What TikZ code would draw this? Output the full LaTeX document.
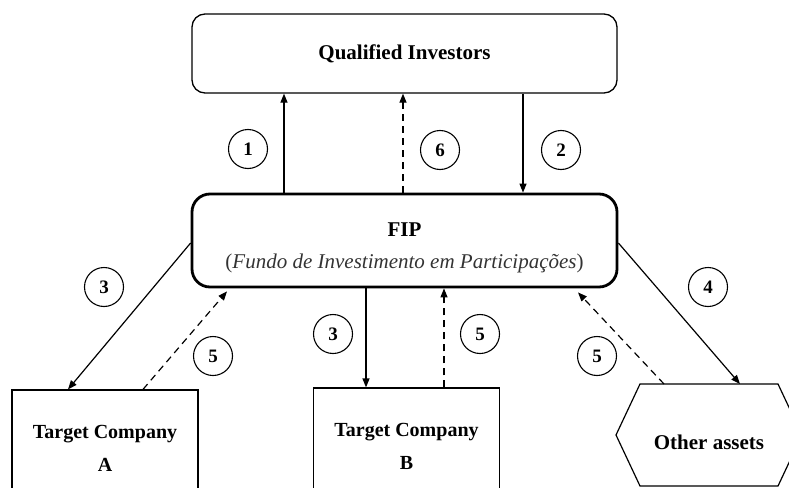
\documentclass[tikz,border=0pt]{standalone}
\usepackage{fontspec}
\setmainfont{Liberation Serif}
\usetikzlibrary{arrows.meta}
\begin{document}
\begin{tikzpicture}[x=1pt,y=-1pt,
  qibox/.style={draw, line width=1.3pt, rounded corners=13pt, minimum width=425pt, minimum height=79pt, inner sep=0pt, font=\fontsize{21}{24}\selectfont\bfseries},
  fipbox/.style={draw, line width=2.8pt, rounded corners=18pt, minimum width=425pt, minimum height=93pt, inner sep=0pt},
  tbox/.style={draw, line width=1.2pt, minimum width=186pt, minimum height=116pt, inner sep=0pt, align=center, font=\fontsize{20}{33}\selectfont\bfseries},
  num/.style={draw, circle, line width=1.1pt, minimum size=39pt, inner sep=0pt, font=\fontsize{19}{19}\selectfont\bfseries},
  conn/.style={line width=1.2pt, -{Triangle[length=9pt,width=7pt]}},
  dconn/.style={conn, dash pattern=on 7pt off 5pt},
]
\useasboundingbox (0,0) rectangle (789,487);
\clip (0,0) rectangle (789,487);

% main boxes
\node[qibox] (qi) at (404.5,53.5) {Qualified Investors};
\node[fipbox] (fip) at (404.5,240.5) {};
\node[font=\fontsize{21}{24}\selectfont\bfseries] (fiplabel) at (404.5,230) {FIP};
\node[font=\fontsize{21}{24}\selectfont, text=black!80] (fipsub) at (404.5,263) {(\textit{Fundo de Investimento em Participações})};

% targets
\node[tbox] (ta) at (105,448) {Target Company\\A};
\node[tbox] (tb) at (406.5,446) {Target Company\\B};

% other assets hexagon
\draw[line width=1.2pt] (616,435) -- (640,384) -- (778,384) -- (802,435) -- (778,486) -- (640,486) -- cycle;
\node[font=\fontsize{21}{24}\selectfont\bfseries] (oa) at (709,442) {Other assets};
\coordinate (oaA) at (740,384);
\coordinate (oaB) at (664,384);

% connectors FIP <-> QI
\draw[conn] ([xshift=-120.5pt]fip.north) -- ([xshift=-120.5pt]qi.south);
\draw[dconn] ([xshift=-1.5pt]fip.north) -- ([xshift=-1.5pt]qi.south);
\draw[conn] ([xshift=118.5pt]qi.south) -- ([xshift=118.5pt]fip.north);

% FIP -> targets
\draw[conn] ([yshift=-2.5pt]fip.west) -- ([xshift=-37pt]ta.north);
\draw[dconn] ([xshift=38pt]ta.north) -- ([xshift=-177.5pt,yshift=-3pt]fip.south);
\draw[conn] ([xshift=-38.5pt]fip.south) -- ([xshift=-38.5pt]fip.south |- tb.north);
\draw[dconn] ([xshift=37.5pt]tb.north) -- ([xshift=37.5pt]tb.north |- fip.south);
\draw[conn] ([yshift=-2.5pt]fip.east) -- (oaA);
\draw[dconn] (oaB) -- ([xshift=173.5pt,yshift=-4pt]fip.south);

% numbers
\node[num] (n1) at (248,149) {1};
\node[num] (n6) at (440,150) {6};
\node[num] (n2) at (561,150) {2};
\node[num] (n3a) at (104,287) {3};
\node[num] (n5a) at (213,356) {5};
\node[num] (n3b) at (333,334) {3};
\node[num] (n5b) at (480,334) {5};
\node[num] (n4) at (708,287) {4};
\node[num] (n5c) at (597,356) {5};
\end{tikzpicture}
\end{document}
